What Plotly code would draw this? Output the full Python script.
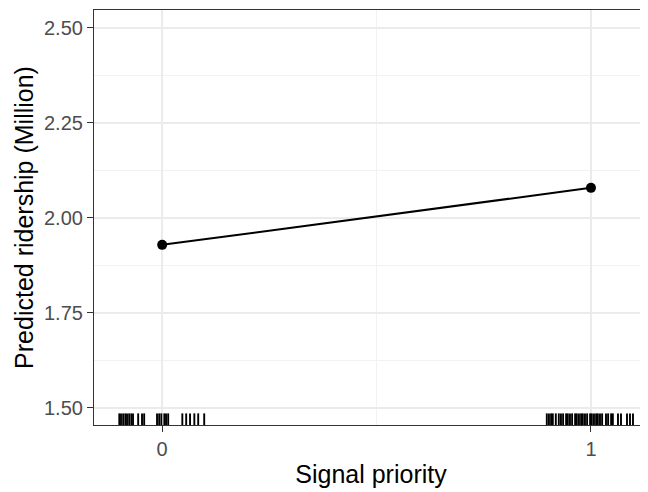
import plotly.graph_objects as go

# Data
signal_priority = [0, 1]
predicted_ridership = [1.929, 2.079]

rug_x = [
    -0.100, -0.096, -0.091, -0.086, -0.082, -0.077, -0.072, -0.068,
    -0.056, -0.047, -0.042,
    -0.012, -0.007, -0.002, 0.005, 0.009, 0.014,
    0.047, 0.056, 0.065, 0.075, 0.084, 0.098,
    0.897, 0.902, 0.907, 0.911, 0.918, 0.925, 0.930, 0.935,
    0.942, 0.946, 0.951, 0.956, 0.963, 0.967, 0.972, 0.977,
    0.981, 0.986, 0.991, 0.998, 1.002, 1.007, 1.012, 1.016,
    1.021, 1.026, 1.035, 1.040, 1.047, 1.051, 1.063, 1.070,
    1.084, 1.091, 1.098,
]

x_tickvals = [0, 1]
y_tickvals = [1.50, 1.75, 2.00, 2.25, 2.50]
y_ticktext = ["1.50", "1.75", "2.00", "2.25", "2.50"]

RUG_LEN = 0.028

rx, ry = [], []
for v in rug_x:
    rx += [v, v, None]
    ry += [0, RUG_LEN, None]

fig = go.Figure()
fig.add_trace(go.Scatter(
    x=rx, y=ry, mode="lines", yaxis="y2",
    line=dict(color="black", width=1.9), hoverinfo="skip", showlegend=False,
))
fig.add_trace(go.Scatter(
    x=signal_priority, y=predicted_ridership, mode="lines+markers",
    line=dict(color="black", width=2),
    marker=dict(color="black", size=10),
    showlegend=False,
))

FONT = "Liberation Sans, Arial, sans-serif"
grid_major = "#EBEBEB"
fig.update_layout(
    width=640, height=484,
    margin=dict(l=86, r=0, t=2, b=67, autoexpand=False),
    plot_bgcolor="white", paper_bgcolor="white",
    font=dict(family=FONT, color="black"),
    xaxis=dict(
        range=[-0.159, 1.133],
        tickvals=x_tickvals, ticktext=["0", "1"],
        ticks="outside", ticklen=6, tickcolor="#333333", tickwidth=1.2,
        tickfont=dict(size=20, color="#4D4D4D"),
        showgrid=True, gridcolor=grid_major, gridwidth=1.5,
        minor=dict(tickvals=[0.5], showgrid=True, gridcolor="#F2F2F2", gridwidth=1, ticks=""),
        showline=True, linecolor="#333333", linewidth=1.2, mirror=True,
        zeroline=False,
        title=dict(text="Signal priority", font=dict(size=25, color="black"), standoff=6),
    ),
    yaxis=dict(
        range=[1.455, 2.547],
        tickvals=y_tickvals, ticktext=y_ticktext,
        ticks="outside", ticklen=6, tickcolor="#333333", tickwidth=1.2,
        tickfont=dict(size=20, color="#4D4D4D"),
        showgrid=True, gridcolor=grid_major, gridwidth=1.5,
        minor=dict(tickvals=[1.625, 1.875, 2.125, 2.375], showgrid=True, gridcolor="#F2F2F2", gridwidth=1, ticks=""),
        showline=True, linecolor="#333333", linewidth=1.2,
        zeroline=False,
        title=dict(text="Predicted ridership (Million)", font=dict(size=25, color="black"), standoff=3),
    ),
    yaxis2=dict(range=[0, 1], overlaying="y", visible=False, fixedrange=True),
)

fig.write_html("out.html")
